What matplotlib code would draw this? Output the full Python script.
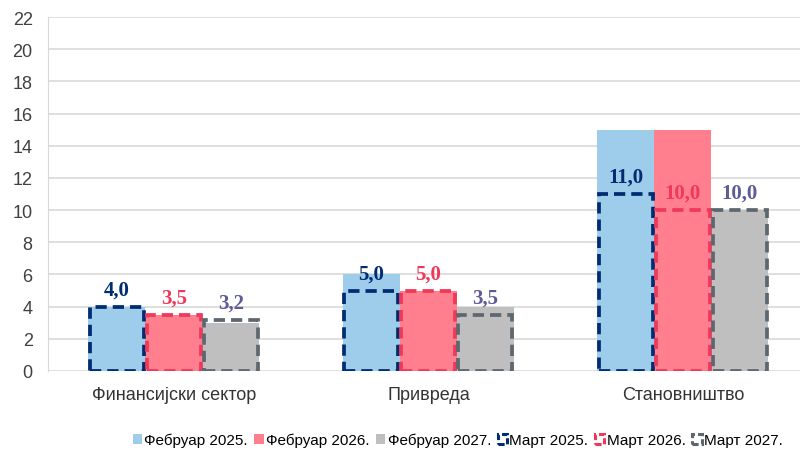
import numpy as np
import matplotlib.pyplot as plt
from matplotlib.patches import Patch

categories = ["Финансијски сектор", "Привреда", "Становништво"]

feb_2025 = [4.0, 6.0, 15.0]
feb_2026 = [3.5, 5.0, 15.0]
feb_2027 = [3.0, 4.0, 10.0]

mar_2025 = [4.0, 5.0, 11.0]
mar_2026 = [3.5, 5.0, 10.0]
mar_2027 = [3.2, 3.5, 10.0]

feb_labels = ["Фебруар 2025.", "Фебруар 2026.", "Фебруар 2027."]
mar_labels = ["Март 2025.", "Март 2026.", "Март 2027."]

fill_colors = ["#9DCDEB", "#FF7F8E", "#BFBFBF"]
edge_colors = ["#002D72", "#F0395A", "#5D6770"]
text_colors = ["#002D72", "#F0395A", "#5E5B96"]

fig = plt.figure(figsize=(8, 4.52), dpi=100)
ax = fig.add_axes([0.06, 0.177, 0.94, 0.783])

x = np.arange(len(categories))
w = 0.224
offsets = [-w, 0, w]

for feb, col, off in zip([feb_2025, feb_2026, feb_2027], fill_colors, offsets):
    ax.bar(x + off, feb, width=w, color=col, zorder=2)

for mar, ec, tc, off in zip([mar_2025, mar_2026, mar_2027], edge_colors, text_colors, offsets):
    bars = ax.bar(x + off, mar, width=w - 0.012, fill=False, edgecolor=ec,
                  linewidth=2.7, linestyle=(0, (3, 1.6)), zorder=3)
    for b, v in zip(bars, mar):
        ax.text(b.get_x() + b.get_width() / 2, v + 0.45, f"{v:.1f}".replace(".", ","),
                ha="center", va="bottom", color=tc, fontsize=15, fontweight="bold",
                family="Liberation Serif", zorder=4)

ax.set_ylim(0, 22)
ax.set_yticks(range(0, 23, 2))
ax.set_xlim(-0.495, 2.46)
ax.set_xticks(x)
ax.set_xticklabels(categories, fontsize=13, family="Liberation Sans")
ax.tick_params(axis="y", labelsize=13, length=0, pad=11)
ax.tick_params(axis="x", length=0, pad=11)
for lab in ax.get_yticklabels():
    lab.set_family("Liberation Sans")
    lab.set_color("#404040")
for lab in ax.get_xticklabels():
    lab.set_color("#333333")

ax.grid(axis="y", color="#D9D9D9", linewidth=1.2, zorder=0)
ax.set_axisbelow(True)
for s in ["top", "right", "bottom"]:
    ax.spines[s].set_visible(False)
ax.spines["left"].set_color("#D9D9D9")

handles = [Patch(facecolor=c, edgecolor="none") for c in fill_colors]
handles += [Patch(facecolor="white", edgecolor=c, linewidth=2.2, linestyle=(0, (2, 1)))
            for c in edge_colors]
fig.legend(handles, feb_labels + mar_labels, loc="lower center", ncol=6,
           bbox_to_anchor=(0.572, -0.022), frameon=False, handlelength=0.6,
           handleheight=0.6, handletextpad=0.15, columnspacing=0.45,
           prop={"family": "Liberation Sans", "size": 11})

fig.savefig("out.png", dpi=100)
